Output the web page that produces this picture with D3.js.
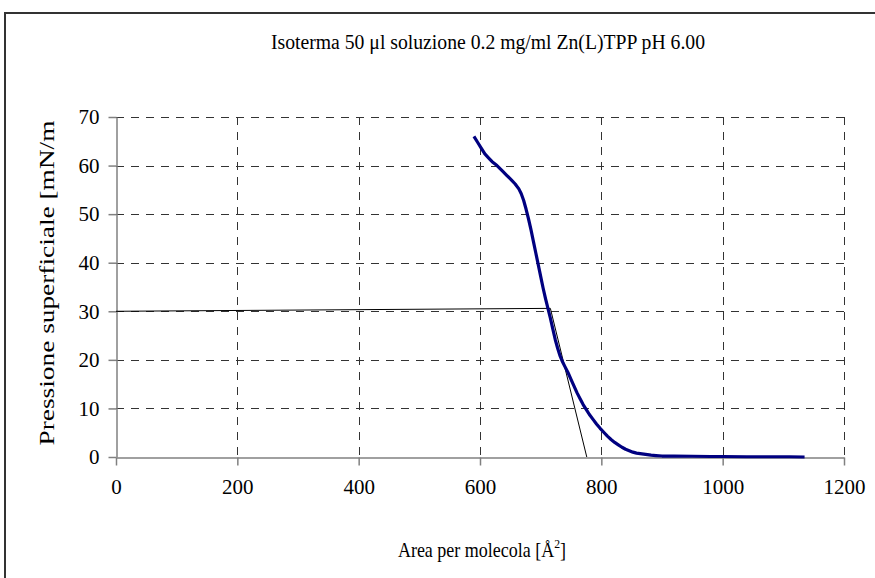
<!DOCTYPE html>
<html>
<head>
<meta charset="utf-8">
<script src="https://cdn.jsdelivr.net/npm/d3@7/dist/d3.min.js"></script>
<style>
  html, body { margin: 0; padding: 0; background: #fff; }
  svg { display: block; }
  text { font-family: "Liberation Serif", "Times New Roman", serif; fill: #000; }
</style>
</head>
<body>
<svg id="chart" width="875" height="578"></svg>
<script>
// Isotherm: surface pressure vs. area per molecule
const curveArea = [590, 596, 602, 608, 614, 620, 628, 636, 644, 652, 658, 664, 668, 672, 676, 680, 684, 688, 692, 696, 700, 704, 708, 712, 716, 720, 724, 728, 732, 736, 740, 745, 750, 755, 760, 765, 770, 775, 780, 786, 792, 798, 804, 810, 816, 822, 828, 834, 840, 846, 852, 858, 864, 870, 876, 882, 890, 900, 920, 950, 980, 1000, 1040, 1080, 1110, 1135];
const curvePressure = [66.0, 64.8, 63.6, 62.4, 61.6, 60.8, 60.0, 59.0, 58.0, 57.0, 56.2, 55.2, 54.2, 52.8, 51.0, 49.0, 46.8, 44.4, 42.0, 39.6, 37.2, 34.8, 32.6, 30.6, 28.6, 26.4, 24.2, 22.4, 20.8, 19.6, 18.6, 17.4, 16.0, 14.6, 13.2, 12.0, 10.8, 9.8, 8.8, 7.8, 6.8, 5.9, 5.1, 4.3, 3.6, 3.0, 2.5, 2.0, 1.6, 1.3, 1.0, 0.8, 0.7, 0.6, 0.5, 0.4, 0.3, 0.2, 0.2, 0.15, 0.1, 0.1, 0.05, 0.05, 0.05, 0.0];

// Construction lines: collapse-pressure level and tangent to the steep region
const levelArea = [0, 716];
const levelPressure = [30.0, 30.6];
const tangentArea = [716, 776];
const tangentPressure = [30.6, 0];

const xTicks = [0, 200, 400, 600, 800, 1000, 1200];
const yTicks = [0, 10, 20, 30, 40, 50, 60, 70];

const titleText = "Isoterma 50 \u03bcl soluzione 0.2 mg/ml Zn(L)TPP pH 6.00";
const yLabel = "Pressione superficiale [mN/m";

const svg = d3.select("#chart");

// outer chart frame
svg.append("rect")
  .attr("x", 5).attr("y", 13)
  .attr("width", 900).attr("height", 600)
  .attr("fill", "none")
  .attr("stroke", "#333")
  .attr("stroke-width", 2);

const x = d3.scaleLinear().domain([0, 1200]).range([116, 844]);
const y = d3.scaleLinear().domain([0, 70]).range([457, 117]);

// grid
const grid = svg.append("g").attr("stroke", "#333").attr("stroke-width", 1)
  .attr("stroke-dasharray", "8,7").attr("fill", "none");
grid.selectAll("line.h").data(yTicks.filter(d => d > 0)).join("line")
  .attr("class", "h")
  .attr("x1", x(1200)).attr("x2", x(0))
  .attr("y1", d => Math.round(y(d)) + 0.5).attr("y2", d => Math.round(y(d)) + 0.5);
grid.selectAll("line.v").data(xTicks.filter(d => d > 0)).join("line")
  .attr("class", "v")
  .attr("x1", d => Math.round(x(d)) + 0.5).attr("x2", d => Math.round(x(d)) + 0.5)
  .attr("y1", y(70)).attr("y2", y(0));

// axes
const fmt = d3.format("d");
const xAxis = svg.append("g")
  .attr("transform", `translate(0,${Math.round(y(0)) + 0.5})`)
  .call(d3.axisBottom(x).tickValues(xTicks).tickFormat(fmt)
    .tickSize(8).tickPadding(14).tickSizeOuter(0));
const yAxis = svg.append("g")
  .attr("transform", `translate(${Math.round(x(0)) + 0.5},0)`)
  .call(d3.axisLeft(y).tickValues(yTicks).tickFormat(fmt)
    .tickSize(8).tickPadding(9).tickSizeOuter(0));
[xAxis, yAxis].forEach(a => {
  a.selectAll("path, line").attr("stroke", "#808080").attr("stroke-width", 1.5);
  a.selectAll("text").style("font-family", "'Liberation Serif', serif")
    .style("font-size", "21px").attr("fill", "#000");
});

const line = d3.line().x(d => x(d[0])).y(d => y(d[1]));

// construction lines
svg.append("path")
  .datum(d3.zip(levelArea, levelPressure))
  .attr("d", line).attr("fill", "none").attr("stroke", "#000").attr("stroke-width", 1);
svg.append("path")
  .datum(d3.zip(tangentArea, tangentPressure))
  .attr("d", line).attr("fill", "none").attr("stroke", "#000").attr("stroke-width", 1);

// isotherm curve
svg.append("path")
  .datum(d3.zip(curveArea, curvePressure))
  .attr("d", line)
  .attr("fill", "none")
  .attr("stroke", "#000080")
  .attr("stroke-width", 3.2)
  .attr("stroke-linejoin", "round");

// titles
svg.append("text")
  .attr("x", 488).attr("y", 49)
  .attr("text-anchor", "middle")
  .attr("textLength", 434)
  .attr("lengthAdjust", "spacingAndGlyphs")
  .style("font-size", "20px")
  .text(titleText);

svg.append("text")
  .attr("transform", "translate(54,283) rotate(-90)")
  .attr("text-anchor", "middle")
  .attr("textLength", 325)
  .attr("lengthAdjust", "spacingAndGlyphs")
  .style("font-size", "21px")
  .text(yLabel);

const xt = svg.append("g").attr("transform", "translate(482,557) scale(0.9,1)")
  .append("text")
  .attr("text-anchor", "middle")
  .style("font-size", "20px");
xt.append("tspan").text("Area per molecola [\u00c5");
xt.append("tspan").attr("dy", -9).style("font-size", "13px").text("2");
xt.append("tspan").attr("dy", 9).text("]");
</script>
</body>
</html>
